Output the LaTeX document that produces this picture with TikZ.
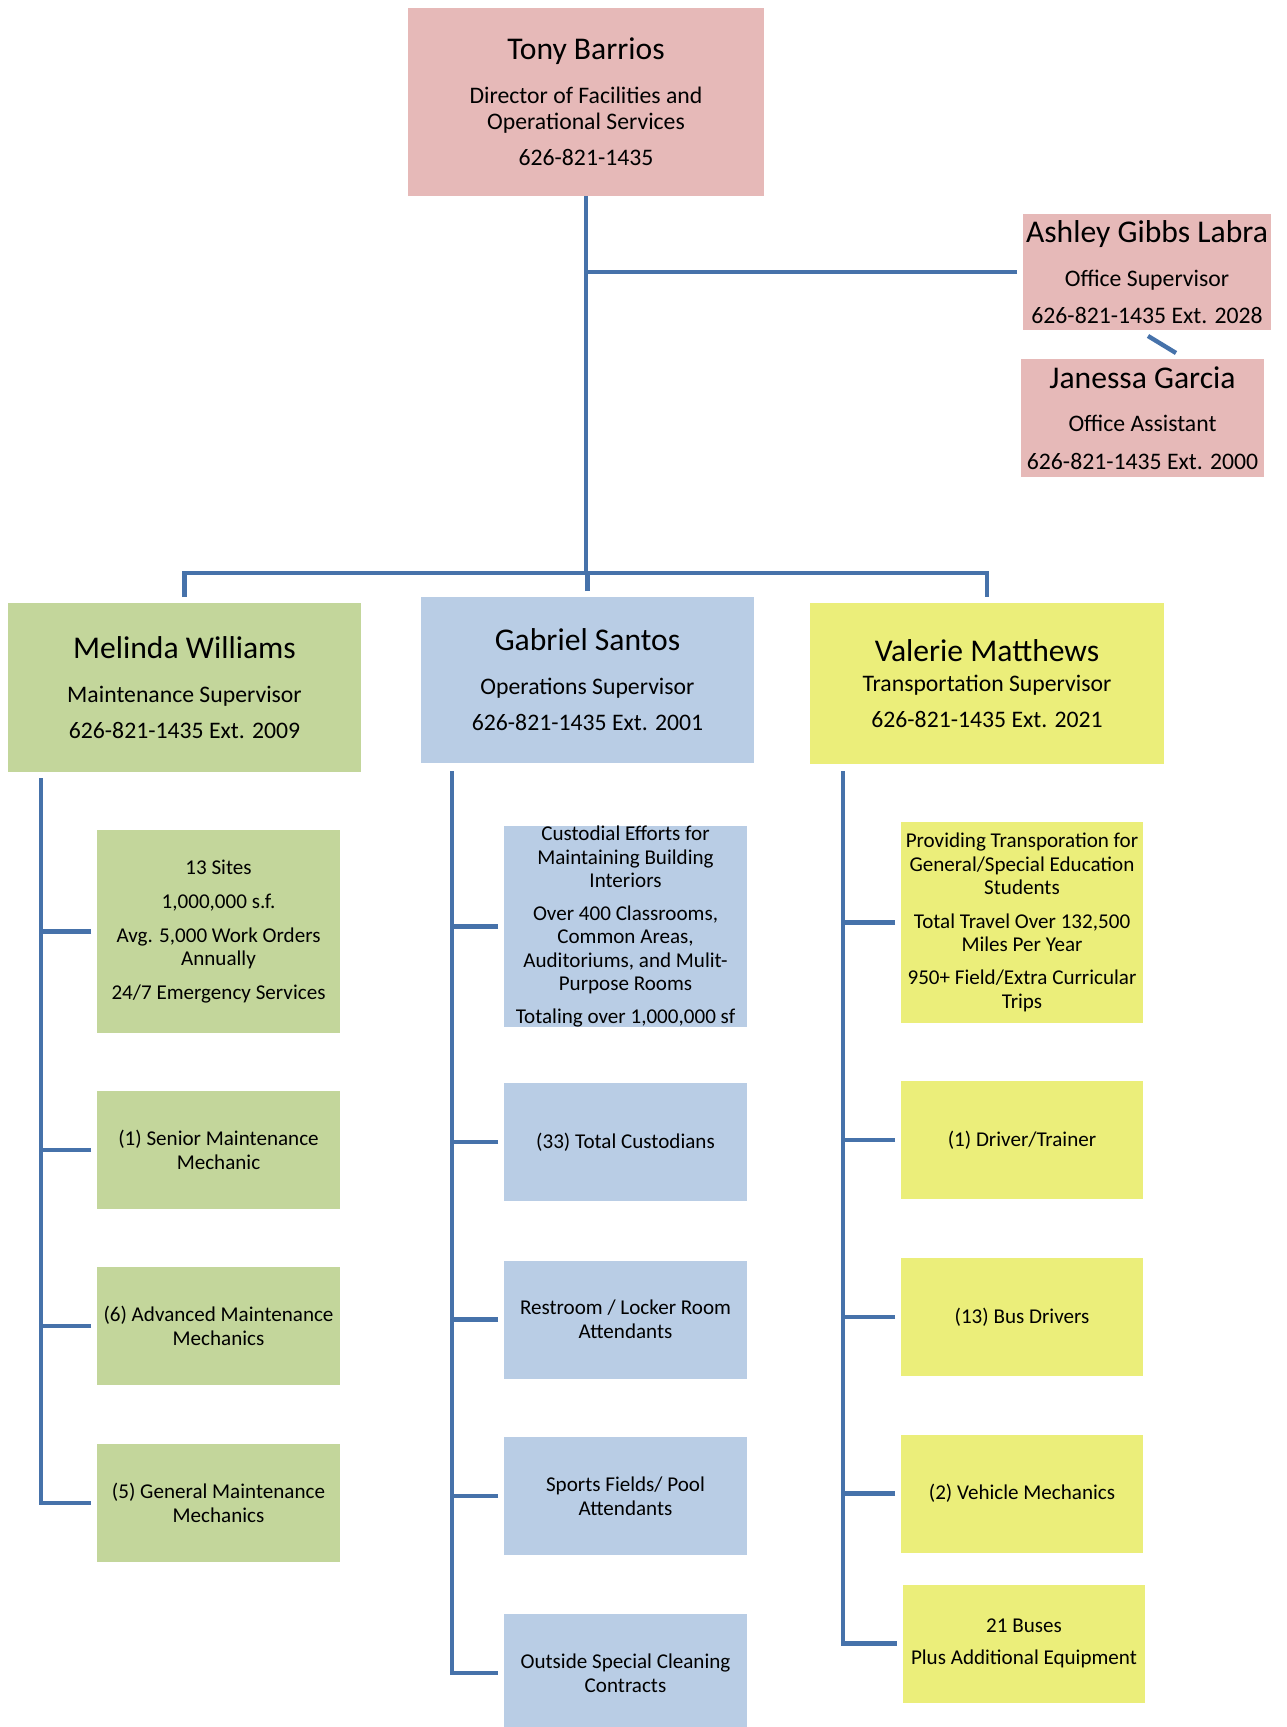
\documentclass[tikz,border=0pt]{standalone}
\usepackage{fontspec}
\setmainfont{Carlito}

\definecolor{rosa}{HTML}{E6B9B8}
\definecolor{gruen}{HTML}{C3D69B}
\definecolor{blau}{HTML}{B9CDE5}
\definecolor{gelb}{HTML}{EBEE7A}
\definecolor{linie}{HTML}{4672AA}

\newcommand{\pname}[1]{{\fontsize{18}{20}\selectfont #1}}

\tikzset{
	person/.style={fill=#1, inner sep=0pt, outer sep=0.12cm, align=center,
		font=\fontsize{13.5}{14.5}\selectfont},
	duty/.style={fill=#1, inner sep=0pt, outer sep=0.12cm, align=center,
		minimum width=4.86cm, minimum height=2.36cm,
		font=\fontsize{12}{13.4}\selectfont},
	link/.style={draw=linie, line width=2.5pt},
}

\begin{document}
\begin{tikzpicture}[x=0.02cm, y=-0.02cm]
\path[use as bounding box, fill=white] (0,0) rectangle (1286,1727);

\node[person=rosa, outer sep=0pt, minimum width=7.14cm, minimum height=3.76cm] (tony) at (586,102)
	{\pname{Tony Barrios}\\[10.5pt] Director of Facilities and\\ Operational Services\\[6.5pt] 626-821-1435};
\node[person=rosa, minimum width=4.96cm, minimum height=2.32cm] (ashley) at (1147,272)
	{\pname{Ashley Gibbs Labra}\\[10.5pt] Office Supervisor\\[6.5pt] 626-821-1435 Ext. 2028};
\node[person=rosa, minimum width=4.86cm, minimum height=2.36cm] (janessa) at (1142.5,418)
	{\pname{Janessa Garcia}\\[10pt] Office Assistant\\[7pt] 626-821-1435 Ext. 2000};

\node[person=gruen, minimum width=7.06cm, minimum height=3.38cm] (melinda) at (184.5,687.5)
	{\pname{Melinda Williams}\\[10.5pt] Maintenance Supervisor\\[6pt] 626-821-1435 Ext. 2009};
\node[person=blau, minimum width=6.66cm, minimum height=3.32cm] (gabriel) at (587.5,680)
	{\pname{Gabriel Santos}\\[10.5pt] Operations Supervisor\\[6pt] 626-821-1435 Ext. 2001};
\node[person=gelb, minimum width=7.08cm, minimum height=3.22cm] (valerie) at (987,683.5)
	{\pname{Valerie Matthews}\\[3pt] Transportation Supervisor\\[6pt] 626-821-1435 Ext. 2021};

% maintenance
\node[duty=gruen, minimum height=4.06cm] (mk1) at (218.5,931.5)
	{13 Sites\\[6pt] 1,000,000 s.f.\\[6pt] Avg. 5,000 Work Orders\\ Annually\\[6pt] 24/7 Emergency Services};
\node[duty=gruen] (mk2) at (218.5,1150) {(1) Senior Maintenance\\ Mechanic};
\node[duty=gruen] (mk3) at (218.5,1326) {(6) Advanced Maintenance\\ Mechanics};
\node[duty=gruen] (mk4) at (218.5,1503) {(5) General Maintenance\\ Mechanics};

% operations
\node[duty=blau, minimum height=3.94cm] (ok1) at (625.5,926.5)
	{Custodial Efforts for\\ Maintaining Building\\ Interiors\\[5pt] Over 400 Classrooms,\\ Common Areas,\\
	 Auditoriums, and Mulit-\\ Purpose Rooms\\[5pt] Totaling over 1,000,000 sf};
\node[duty=blau] (ok2) at (625.5,1142) {(33) Total Custodians};
\node[duty=blau] (ok3) at (625.5,1319.5) {Restroom / Locker Room\\ Attendants};
\node[duty=blau] (ok4) at (625.5,1496) {Sports Fields/ Pool\\ Attendants};
\node[duty=blau] (ok5) at (625.5,1673) {Outside Special Cleaning\\ Contracts};

% transportation
\node[duty=gelb, minimum width=4.84cm, minimum height=4.02cm] (tk1) at (1022,922.5)
	{Providing Transporation for\\ General/Special Education\\ Students\\[5.5pt] Total Travel Over 132,500\\ Miles Per Year\\[5.5pt]
	 950+ Field/Extra Curricular\\ Trips};
\node[duty=gelb, minimum width=4.84cm] (tk2) at (1022,1140) {(1) Driver/Trainer};
\node[duty=gelb, minimum width=4.84cm] (tk3) at (1022,1317) {(13) Bus Drivers};
\node[duty=gelb, minimum width=4.84cm] (tk4) at (1022,1493.5) {(2) Vehicle Mechanics};
\node[duty=gelb, minimum width=4.84cm] (tk5) at (1024,1643.5) {21 Buses\\[5pt] Plus Additional Equipment};

\coordinate (hub) at (586,573);
\coordinate (mline) at (41,778);
\coordinate (oline) at (452,771);
\coordinate (tline) at (843,771);

\draw[link] (tony.south) -- (hub);
\draw[link] (ashley.west) -- (ashley.west -| tony.south);
\draw[link] ([xshift=0.02cm]ashley.south) -- ([xshift=0.67cm]janessa.north);
\draw[link] (melinda.north) |- (hub) -| (valerie.north);
\draw[link] (gabriel.north) -- (gabriel.north |- hub);

\draw[link] (mline) |- (mk4.west);
\draw[link] (oline) |- (ok5.west);
\draw[link] (tline) |- (tk5.west);
\path[link]
(mk1.west) edge (mk1.west -| mline)
(mk2.west) edge (mk2.west -| mline)
(mk3.west) edge (mk3.west -| mline)
(ok1.west) edge (ok1.west -| oline)
(ok2.west) edge (ok2.west -| oline)
(ok3.west) edge (ok3.west -| oline)
(ok4.west) edge (ok4.west -| oline)
(tk1.west) edge (tk1.west -| tline)
(tk2.west) edge (tk2.west -| tline)
(tk3.west) edge (tk3.west -| tline)
(tk4.west) edge (tk4.west -| tline);
\end{tikzpicture}
\end{document}
